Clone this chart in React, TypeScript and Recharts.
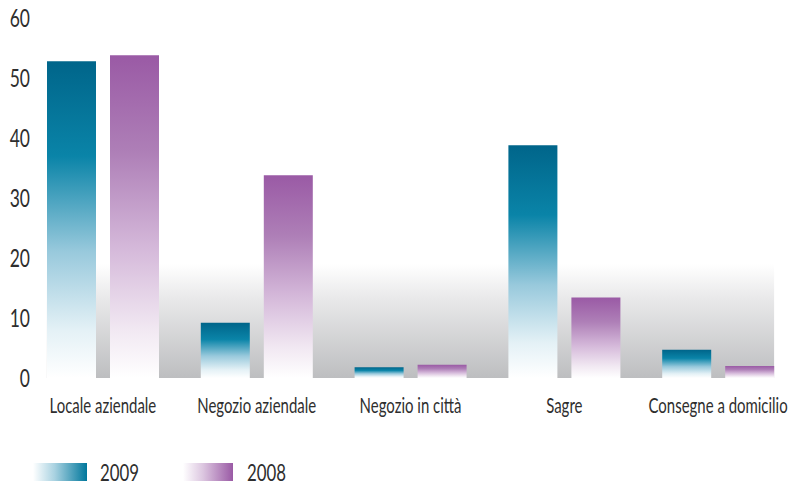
import React from "react";
import { BarChart, Bar, XAxis, YAxis, ReferenceArea } from "recharts";

const categories = ["Locale aziendale", "Negozio aziendale", "Negozio in città", "Sagre", "Consegne a domicilio"];
const values2009 = [52.8, 9.2, 1.8, 38.8, 4.7];
const values2008 = [53.8, 33.8, 2.2, 13.4, 2.0];
const yTicks = [0, 10, 20, 30, 40, 50, 60];
const seriesNames = ["2009", "2008"];

const data = categories.map((c, i) => ({ name: c, v2009: values2009[i], v2008: values2008[i] }));

const FONT = 'Lato, "Noto Sans", sans-serif';
const SQUEEZE = 0.7;
const BAR = 49;
const GAP = 14;
const TEXT = "#2e2e2e";

const GrayBand = (props: any) => {
  const { x, y, width, height } = props;
  const band = width / categories.length;
  const inset = (band - (2 * BAR + GAP)) / 2;
  return <rect x={x + inset} y={y} width={width - 2 * inset} height={height} fill="url(#grayGrad)" />;
};

const YTick = (props: any) => {
  const { y, payload } = props;
  return (
    <g transform={`translate(22,${y})`}>
      <text transform={`scale(${SQUEEZE},1)`} dy="0.36em" textAnchor="end" fontFamily={FONT} fontSize={25} fill={TEXT}>
        {payload.value}
      </text>
    </g>
  );
};

const XTick = (props: any) => {
  const { x, payload } = props;
  return (
    <g transform={`translate(${x},405)`}>
      <text transform={`scale(0.68,1)`} textAnchor="middle" fontFamily={FONT} fontSize={22} fill={TEXT}>
        {payload.value}
      </text>
    </g>
  );
};

const legendText: React.CSSProperties = {
  display: "inline-block",
  transform: `scaleX(${SQUEEZE + 0.03})`,
  transformOrigin: "left bottom",
};

export default function App() {
  return (
    <div style={{ position: "relative", width: 788, height: 473 }}>
      <BarChart
        width={788}
        height={473}
        data={data}
        margin={{ top: 10, right: 1, bottom: 63, left: 0 }}
        barSize={BAR}
        barGap={GAP}
        style={{ overflow: "visible" }}
      >
        <defs>
          <linearGradient id="grayGrad" x1="0" y1="0" x2="0" y2="1">
            <stop offset="0" stopColor="#ffffff" />
            <stop offset="0.3" stopColor="#e9e9ea" />
            <stop offset="1" stopColor="#bdbec0" />
          </linearGradient>
          <linearGradient id="tealGrad" x1="0" y1="0" x2="0" y2="1">
            <stop offset="0" stopColor="#00658a" />
            <stop offset="0.3" stopColor="#0a84a8" />
            <stop offset="0.6" stopColor="#98c9dc" />
            <stop offset="0.85" stopColor="#e4f1f6" />
            <stop offset="1" stopColor="#ffffff" />
          </linearGradient>
          <linearGradient id="purpleGrad" x1="0" y1="0" x2="0" y2="1">
            <stop offset="0" stopColor="#9a5aa5" />
            <stop offset="0.3" stopColor="#ae7fb7" />
            <stop offset="0.6" stopColor="#d5b9da" />
            <stop offset="0.85" stopColor="#f1e8f2" />
            <stop offset="1" stopColor="#ffffff" />
          </linearGradient>
        </defs>
        <XAxis dataKey="name" axisLine={false} tickLine={false} height={40} tick={<XTick />} interval={0} />
        <YAxis
          domain={[0, 60]}
          ticks={yTicks}
          axisLine={false}
          tickLine={false}
          width={18}
          tick={<YTick />}
        />
        <ReferenceArea
          x1={categories[0]}
          x2={categories[categories.length - 1]}
          y1={0}
          y2={19}
          shape={<GrayBand />}
          ifOverflow="visible"
        />
        <Bar dataKey="v2009" name={seriesNames[0]} fill="url(#tealGrad)" isAnimationActive={false} />
        <Bar dataKey="v2008" name={seriesNames[1]} fill="url(#purpleGrad)" isAnimationActive={false} />
      </BarChart>
      <div
        style={{
          position: "absolute",
          left: 25,
          top: 455,
          display: "flex",
          alignItems: "flex-end",
          fontFamily: FONT,
          fontSize: 23,
          color: TEXT,
          lineHeight: "18px",
          whiteSpace: "nowrap",
        }}
      >
        <div style={{ width: 54, height: 18, background: "linear-gradient(to right, #ffffff, #a9d2e1 40%, #00779c)" }} />
        <span style={{ marginLeft: 13, width: 83 }}>
          <span style={legendText}>{seriesNames[0]}</span>
        </span>
        <div style={{ width: 50, height: 18, background: "linear-gradient(to right, #ffffff, #dcc6e0 40%, #9a5aa5)" }} />
        <span style={{ marginLeft: 14 }}>
          <span style={legendText}>{seriesNames[1]}</span>
        </span>
      </div>
    </div>
  );
}
